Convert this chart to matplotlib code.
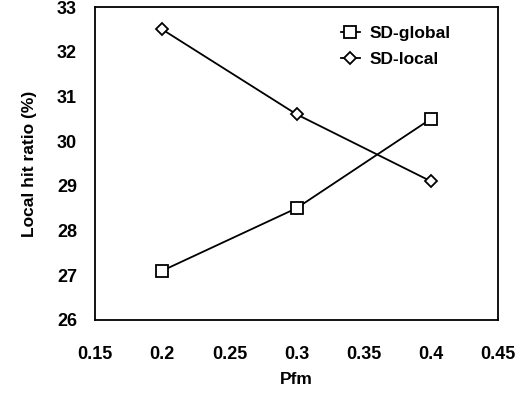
import matplotlib.pyplot as plt

pfm = [0.2, 0.3, 0.4]
sd_global = [27.1, 28.5, 30.5]
sd_local = [32.5, 30.6, 29.1]

plt.rcParams['font.family'] = ['Liberation Sans', 'DejaVu Sans']
plt.rcParams['font.weight'] = 'bold'

fig = plt.figure(figsize=(5.19, 3.93), dpi=100)
ax = fig.add_axes([0.183, 0.186, 0.777, 0.796])

ax.plot(pfm, sd_global, color='black', lw=1.3, marker='s', ms=8.5,
        mfc='white', mec='black', mew=1.3, label='SD-global')
ax.plot(pfm, sd_local, color='black', lw=1.3, marker='D', ms=6.5,
        mfc='white', mec='black', mew=1.3, label='SD-local')

ax.set_xlim(0.15, 0.45)
ax.set_ylim(26, 33)
ax.set_xticks([0.15, 0.2, 0.25, 0.3, 0.35, 0.4, 0.45])
ax.set_xticklabels(['0.15', '0.2', '0.25', '0.3', '0.35', '0.4', '0.45'])
ax.set_yticks(range(26, 34))
ax.tick_params(length=0, labelsize=13, pad=13)
ax.tick_params(axis='x', pad=19)
for s in ax.spines.values():
    s.set_linewidth(1.3)

ax.set_xlabel('Pfm', fontsize=12.5, fontweight='bold', labelpad=6)
ax.set_ylabel('Local hit ratio (%)', fontsize=12.5, fontweight='bold', labelpad=14)

ax.legend(loc='upper right', bbox_to_anchor=(0.922, 0.99), frameon=False,
          fontsize=12.5, handlelength=1.1, handletextpad=0.6, labelspacing=0.65)

fig.savefig('out.png', dpi=100)
